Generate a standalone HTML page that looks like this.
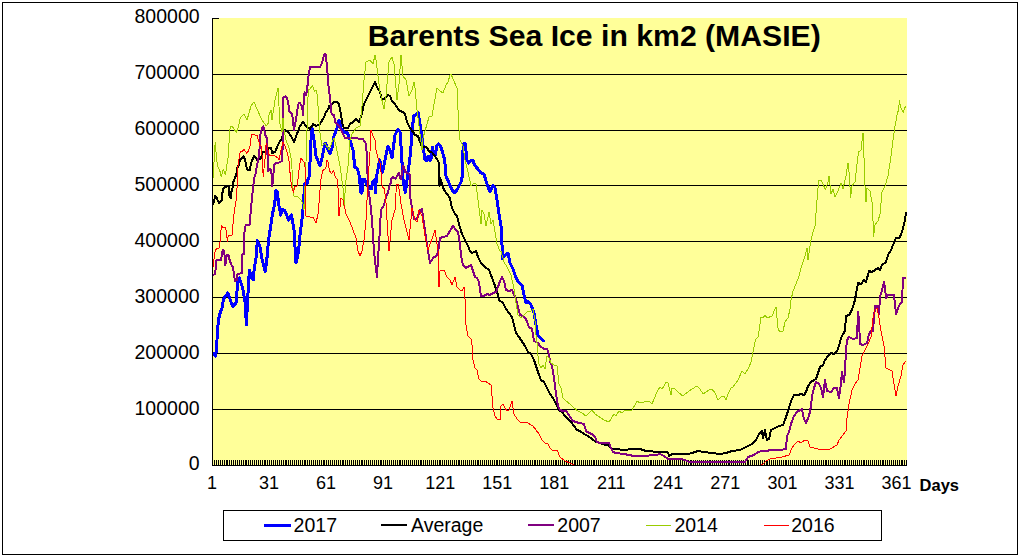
<!DOCTYPE html><html><head><meta charset="utf-8"><style>
html,body{margin:0;padding:0;background:#fff;overflow:hidden}
svg{display:block}
text{font-family:"Liberation Sans",sans-serif;fill:#000}
.y{font-size:19.5px}
.x{font-size:18px}
.b{font-size:16.5px;font-weight:bold}
.title{font-size:30.2px;font-weight:bold}
</style></head><body><svg width="1018" height="555" viewBox="0 0 1018 555" shape-rendering="crispEdges">
<rect x="0" y="0" width="1018" height="555" fill="#fff"/>
<rect x="2.5" y="2.5" width="1015" height="552" fill="none" stroke="#000" stroke-width="1"/>
<rect x="212" y="18" width="695" height="447" fill="#FFFF99"/>
<path d="M212 74.5H907 M212 130.5H907 M212 185.5H907 M212 241.5H907 M212 297.5H907 M212 353.5H907 M212 409.5H907" stroke="#000" stroke-width="1" fill="none"/>
<path d="M212 18.5H219" stroke="#000" stroke-width="1"/>
<path d="M212.5 460V465 M214.5 460V465 M216.5 460V465 M218.5 460V465 M220.5 460V465 M222.5 460V465 M224.5 460V465 M226.5 460V465 M227.5 460V465 M229.5 460V465 M231.5 460V465 M233.5 460V465 M235.5 460V465 M237.5 460V465 M239.5 460V465 M241.5 460V465 M243.5 460V465 M245.5 460V465 M246.5 460V465 M248.5 460V465 M250.5 460V465 M252.5 460V465 M254.5 460V465 M256.5 460V465 M258.5 460V465 M260.5 460V465 M262.5 460V465 M264.5 460V465 M265.5 460V465 M267.5 460V465 M269.5 460V465 M271.5 460V465 M273.5 460V465 M275.5 460V465 M277.5 460V465 M279.5 460V465 M281.5 460V465 M283.5 460V465 M285.5 460V465 M286.5 460V465 M288.5 460V465 M290.5 460V465 M292.5 460V465 M294.5 460V465 M296.5 460V465 M298.5 460V465 M300.5 460V465 M302.5 460V465 M304.5 460V465 M305.5 460V465 M307.5 460V465 M309.5 460V465 M311.5 460V465 M313.5 460V465 M315.5 460V465 M317.5 460V465 M319.5 460V465 M321.5 460V465 M323.5 460V465 M324.5 460V465 M326.5 460V465 M328.5 460V465 M330.5 460V465 M332.5 460V465 M334.5 460V465 M336.5 460V465 M338.5 460V465 M340.5 460V465 M342.5 460V465 M343.5 460V465 M345.5 460V465 M347.5 460V465 M349.5 460V465 M351.5 460V465 M353.5 460V465 M355.5 460V465 M357.5 460V465 M359.5 460V465 M361.5 460V465 M362.5 460V465 M364.5 460V465 M366.5 460V465 M368.5 460V465 M370.5 460V465 M372.5 460V465 M374.5 460V465 M376.5 460V465 M378.5 460V465 M380.5 460V465 M381.5 460V465 M383.5 460V465 M385.5 460V465 M387.5 460V465 M389.5 460V465 M391.5 460V465 M393.5 460V465 M395.5 460V465 M397.5 460V465 M399.5 460V465 M400.5 460V465 M402.5 460V465 M404.5 460V465 M406.5 460V465 M408.5 460V465 M410.5 460V465 M412.5 460V465 M414.5 460V465 M416.5 460V465 M418.5 460V465 M420.5 460V465 M421.5 460V465 M423.5 460V465 M425.5 460V465 M427.5 460V465 M429.5 460V465 M431.5 460V465 M433.5 460V465 M435.5 460V465 M437.5 460V465 M439.5 460V465 M440.5 460V465 M442.5 460V465 M444.5 460V465 M446.5 460V465 M448.5 460V465 M450.5 460V465 M452.5 460V465 M454.5 460V465 M456.5 460V465 M458.5 460V465 M459.5 460V465 M461.5 460V465 M463.5 460V465 M465.5 460V465 M467.5 460V465 M469.5 460V465 M471.5 460V465 M473.5 460V465 M475.5 460V465 M477.5 460V465 M478.5 460V465 M480.5 460V465 M482.5 460V465 M484.5 460V465 M486.5 460V465 M488.5 460V465 M490.5 460V465 M492.5 460V465 M494.5 460V465 M496.5 460V465 M497.5 460V465 M499.5 460V465 M501.5 460V465 M503.5 460V465 M505.5 460V465 M507.5 460V465 M509.5 460V465 M511.5 460V465 M513.5 460V465 M515.5 460V465 M516.5 460V465 M518.5 460V465 M520.5 460V465 M522.5 460V465 M524.5 460V465 M526.5 460V465 M528.5 460V465 M530.5 460V465 M532.5 460V465 M534.5 460V465 M535.5 460V465 M537.5 460V465 M539.5 460V465 M541.5 460V465 M543.5 460V465 M545.5 460V465 M547.5 460V465 M549.5 460V465 M551.5 460V465 M553.5 460V465 M555.5 460V465 M556.5 460V465 M558.5 460V465 M560.5 460V465 M562.5 460V465 M564.5 460V465 M566.5 460V465 M568.5 460V465 M570.5 460V465 M572.5 460V465 M574.5 460V465 M575.5 460V465 M577.5 460V465 M579.5 460V465 M581.5 460V465 M583.5 460V465 M585.5 460V465 M587.5 460V465 M589.5 460V465 M591.5 460V465 M593.5 460V465 M594.5 460V465 M596.5 460V465 M598.5 460V465 M600.5 460V465 M602.5 460V465 M604.5 460V465 M606.5 460V465 M608.5 460V465 M610.5 460V465 M612.5 460V465 M613.5 460V465 M615.5 460V465 M617.5 460V465 M619.5 460V465 M621.5 460V465 M623.5 460V465 M625.5 460V465 M627.5 460V465 M629.5 460V465 M631.5 460V465 M632.5 460V465 M634.5 460V465 M636.5 460V465 M638.5 460V465 M640.5 460V465 M642.5 460V465 M644.5 460V465 M646.5 460V465 M648.5 460V465 M650.5 460V465 M651.5 460V465 M653.5 460V465 M655.5 460V465 M657.5 460V465 M659.5 460V465 M661.5 460V465 M663.5 460V465 M665.5 460V465 M667.5 460V465 M669.5 460V465 M670.5 460V465 M672.5 460V465 M674.5 460V465 M676.5 460V465 M678.5 460V465 M680.5 460V465 M682.5 460V465 M684.5 460V465 M686.5 460V465 M688.5 460V465 M690.5 460V465 M691.5 460V465 M693.5 460V465 M695.5 460V465 M697.5 460V465 M699.5 460V465 M701.5 460V465 M703.5 460V465 M705.5 460V465 M707.5 460V465 M709.5 460V465 M710.5 460V465 M712.5 460V465 M714.5 460V465 M716.5 460V465 M718.5 460V465 M720.5 460V465 M722.5 460V465 M724.5 460V465 M726.5 460V465 M728.5 460V465 M729.5 460V465 M731.5 460V465 M733.5 460V465 M735.5 460V465 M737.5 460V465 M739.5 460V465 M741.5 460V465 M743.5 460V465 M745.5 460V465 M747.5 460V465 M748.5 460V465 M750.5 460V465 M752.5 460V465 M754.5 460V465 M756.5 460V465 M758.5 460V465 M760.5 460V465 M762.5 460V465 M764.5 460V465 M766.5 460V465 M767.5 460V465 M769.5 460V465 M771.5 460V465 M773.5 460V465 M775.5 460V465 M777.5 460V465 M779.5 460V465 M781.5 460V465 M783.5 460V465 M785.5 460V465 M786.5 460V465 M788.5 460V465 M790.5 460V465 M792.5 460V465 M794.5 460V465 M796.5 460V465 M798.5 460V465 M800.5 460V465 M802.5 460V465 M804.5 460V465 M805.5 460V465 M807.5 460V465 M809.5 460V465 M811.5 460V465 M813.5 460V465 M815.5 460V465 M817.5 460V465 M819.5 460V465 M821.5 460V465 M823.5 460V465 M825.5 460V465 M826.5 460V465 M828.5 460V465 M830.5 460V465 M832.5 460V465 M834.5 460V465 M836.5 460V465 M838.5 460V465 M840.5 460V465 M842.5 460V465 M844.5 460V465 M845.5 460V465 M847.5 460V465 M849.5 460V465 M851.5 460V465 M853.5 460V465 M855.5 460V465 M857.5 460V465 M859.5 460V465 M861.5 460V465 M863.5 460V465 M864.5 460V465 M866.5 460V465 M868.5 460V465 M870.5 460V465 M872.5 460V465 M874.5 460V465 M876.5 460V465 M878.5 460V465 M880.5 460V465 M882.5 460V465 M883.5 460V465 M885.5 460V465 M887.5 460V465 M889.5 460V465 M891.5 460V465 M893.5 460V465 M895.5 460V465 M897.5 460V465 M899.5 460V465 M901.5 460V465 M902.5 460V465 M904.5 460V465 M906.5 460V465" stroke="#000" stroke-width="1"/>
<path d="M213.0 353.0 L215.5 356.0 L216.5 350.0 L217.0 340.0 L217.5 329.0 L218.6 320.0 L219.5 315.0 L222.0 308.0 L223.6 299.0 L227.8 293.0 L230.3 300.0 L232.8 306.4 L236.1 303.0 L237.7 281.5 L239.4 278.0 L242.7 288.0 L245.2 303.0 L246.4 325.0 L247.7 298.0 L249.4 270.0 L251.0 276.6 L253.2 280.0 L254.3 268.0 L256.0 258.0 L257.4 240.5 L259.9 246.3 L261.8 258.0 L265.1 271.6 L266.8 260.0 L268.5 240.0 L269.1 236.0 L270.5 227.6 L271.8 218.6 L273.2 210.4 L274.6 204.2 L275.3 198.0 L276.0 190.0 L277.5 192.0 L278.5 203.0 L280.7 215.0 L282.3 209.0 L285.0 211.0 L288.5 220.0 L291.5 215.0 L294.0 230.0 L296.0 263.0 L298.5 252.0 L300.0 235.0 L302.5 215.0 L303.8 200.0 L304.4 184.0 L307.4 183.0 L308.1 179.0 L309.5 176.0 L309.7 166.0 L310.2 160.0 L311.0 140.0 L312.0 128.0 L314.0 140.0 L316.0 156.0 L320.0 166.0 L322.0 158.0 L324.0 148.0 L325.0 143.0 L326.0 144.0 L328.0 150.0 L330.0 154.0 L332.0 148.0 L334.0 136.0 L337.0 128.0 L339.0 120.0 L341.0 128.0 L344.0 132.0 L347.0 132.0 L350.0 140.0 L353.0 150.0 L354.8 166.9 L357.5 169.0 L358.9 173.8 L359.6 180.0 L360.9 193.0 L362.0 193.0 L362.3 179.3 L364.4 179.3 L366.0 183.0 L368.5 187.5 L371.3 188.9 L372.6 182.0 L374.7 180.0 L375.4 193.0 L376.4 177.2 L377.4 172.4 L378.5 166.2 L379.5 160.0 L380.5 162.0 L382.3 172.4 L383.5 168.0 L385.0 160.0 L388.0 146.0 L390.0 150.0 L392.0 158.0 L395.0 135.0 L398.0 129.0 L400.0 132.0 L401.0 146.0 L402.2 165.5 L402.9 178.0 L404.3 187.5 L405.3 192.3 L406.3 186.0 L407.0 180.0 L407.7 174.0 L408.7 167.0 L409.8 160.0 L411.0 146.0 L412.0 130.0 L414.0 115.0 L416.0 115.0 L418.0 112.0 L420.0 124.0 L422.0 138.0 L423.0 145.0 L424.8 158.9 L426.1 161.0 L428.2 156.0 L429.6 160.3 L430.9 159.6 L432.3 147.2 L433.3 152.0 L435.1 156.0 L436.8 145.8 L438.5 143.8 L440.6 146.5 L441.9 150.0 L443.3 154.8 L444.4 158.9 L445.4 168.0 L446.0 176.0 L449.0 183.0 L452.0 190.0 L455.0 193.0 L458.0 188.0 L461.0 182.0 L462.6 175.0 L463.0 150.0 L463.5 143.8 L465.3 143.8 L466.0 150.6 L466.7 160.3 L468.8 163.0 L471.5 160.3 L472.9 160.3 L474.3 164.4 L477.0 168.0 L481.0 173.0 L484.0 174.0 L487.0 184.0 L490.0 192.0 L493.0 185.0 L495.0 188.0 L497.0 200.0 L499.0 214.0 L501.0 226.0 L502.0 245.0 L502.0 259.0 L505.0 255.0 L508.0 253.0 L510.0 263.0 L513.0 269.0 L515.0 275.0 L518.0 282.0 L522.0 285.0 L524.0 295.0 L526.0 303.0 L528.0 301.0 L531.0 305.0 L534.0 313.0 L536.0 325.0 L538.0 335.0 L541.0 339.0 L544.0 341.0" stroke="#0000FF" stroke-width="3" fill="none" stroke-linejoin="round" stroke-linecap="round"/>
<path d="M212.5 204.0 L213.1 204.3 L214.2 200.8 L215.2 196.0 L216.6 197.4 L217.9 200.8 L219.3 202.9 L220.7 201.5 L222.1 200.1 L222.4 194.0 L222.8 189.0 L223.8 187.8 L225.5 187.0 L227.6 185.7 L228.9 187.0 L229.6 197.4 L230.7 198.0 L231.4 192.0 L232.4 188.4 L233.4 182.0 L234.8 178.4 L235.8 175.6 L236.9 171.5 L237.5 167.4 L238.6 165.3 L239.6 161.2 L241.0 159.0 L242.7 157.8 L243.7 156.4 L244.8 159.0 L245.8 163.3 L246.8 168.8 L248.2 170.0 L249.6 170.5 L250.6 166.0 L251.6 162.0 L253.0 158.4 L254.4 155.7 L255.8 157.8 L256.8 159.8 L259.2 157.8 L260.2 159.0 L261.6 156.4 L262.5 152.0 L264.0 151.6 L266.0 153.0 L269.2 147.5 L271.0 147.5 L272.3 153.0 L275.0 152.0 L277.8 145.4 L279.0 143.0 L282.0 138.0 L285.0 130.0 L288.0 132.0 L291.0 136.0 L294.0 142.0 L297.0 134.0 L300.0 126.0 L303.0 122.0 L306.0 126.0 L310.0 129.0 L313.0 124.0 L316.0 126.0 L320.0 124.0 L324.1 117.0 L325.5 113.0 L328.3 109.0 L329.3 106.0 L332.4 103.4 L334.5 102.0 L337.2 102.0 L338.6 103.4 L339.6 107.5 L340.6 112.3 L341.3 117.0 L342.5 124.0 L344.0 128.0 L348.0 128.0 L350.0 124.0 L353.0 122.0 L356.0 119.0 L359.0 122.0 L361.0 117.0 L364.0 104.0 L368.0 96.0 L372.0 88.0 L375.0 82.0 L377.0 87.0 L380.0 92.0 L382.0 100.0 L385.0 98.0 L388.0 95.0 L390.0 96.0 L392.0 101.0 L395.0 104.0 L398.0 109.0 L400.0 111.0 L403.0 112.0 L405.0 114.0 L407.0 122.0 L410.0 128.0 L413.0 132.0 L415.0 135.0 L418.0 136.0 L420.0 142.0 L422.0 147.0 L426.0 146.5 L427.5 148.6 L428.9 151.3 L432.3 152.7 L435.8 157.5 L437.8 160.3 L438.9 163.0 L439.2 168.0 L439.5 186.0 L440.0 178.0 L442.0 184.0 L444.0 190.0 L447.0 194.0 L450.0 198.0 L452.0 208.0 L455.0 214.0 L457.0 216.0 L459.0 224.0 L462.0 234.0 L465.0 240.0 L468.0 246.0 L470.0 251.0 L472.0 253.0 L476.0 251.0 L478.0 257.0 L481.0 263.0 L485.0 267.0 L489.0 270.0 L491.0 275.0 L494.0 283.0 L498.0 295.0 L499.0 300.0 L503.0 303.0 L506.0 309.0 L509.0 313.0 L512.0 317.0 L514.0 325.0 L516.0 333.0 L519.0 337.0 L521.0 340.0 L525.0 346.0 L528.0 352.0 L531.0 354.0 L534.0 360.0 L536.0 366.0 L538.0 372.0 L541.0 380.0 L544.0 382.0 L547.0 388.0 L550.0 394.0 L553.0 398.0 L556.0 404.0 L559.0 410.0 L562.0 412.0 L565.0 416.0 L568.0 419.0 L571.0 422.0 L574.0 426.0 L577.0 430.0 L580.0 431.0 L584.0 434.0 L588.0 436.0 L592.0 439.0 L596.0 442.0 L600.0 443.0 L606.0 445.0 L608.0 445.0 L612.0 449.0 L616.0 449.0 L624.0 450.0 L632.0 449.0 L640.0 449.0 L646.0 451.0 L654.0 451.6 L662.0 451.6 L668.0 452.4 L669.0 456.0 L672.0 454.0 L680.0 453.6 L686.0 454.4 L692.0 453.0 L698.0 451.0 L704.0 452.0 L712.0 453.0 L720.0 454.0 L726.0 453.0 L732.0 451.0 L740.0 450.0 L746.0 447.0 L752.0 444.0 L756.0 440.0 L759.0 434.0 L762.0 431.0 L763.0 438.0 L765.0 430.0 L767.0 440.0 L769.0 439.0 L771.0 430.0 L775.0 428.0 L779.0 426.0 L783.0 425.0 L785.0 420.0 L787.0 414.0 L789.0 408.0 L791.0 401.0 L794.0 395.0 L798.0 395.0 L801.0 394.0 L804.0 395.0 L806.0 392.0 L808.0 386.0 L811.0 382.0 L814.0 380.0 L816.0 379.0 L818.0 373.0 L820.0 367.0 L823.0 365.0 L825.0 360.0 L828.0 356.0 L831.0 353.0 L834.0 354.0 L837.0 351.0 L839.0 346.0 L841.0 338.0 L843.0 334.0 L845.0 331.0 L846.0 316.0 L849.0 315.0 L851.0 312.0 L854.0 304.0 L856.0 294.0 L858.0 283.0 L861.0 284.0 L864.0 280.0 L866.0 282.0 L869.0 271.0 L872.0 272.0 L875.0 270.0 L878.0 268.0 L880.0 270.0 L882.0 265.0 L886.0 262.0 L888.0 255.0 L891.0 250.0 L893.0 245.0 L896.0 238.0 L899.0 238.0 L901.0 235.0 L903.0 228.0 L905.0 220.0 L906.0 213.0" stroke="#000000" stroke-width="2" fill="none" stroke-linejoin="round" stroke-linecap="round"/>
<path d="M212.5 275.0 L215.1 274.0 L215.8 267.6 L216.5 260.0 L220.9 260.0 L221.6 256.6 L222.7 249.8 L223.3 249.8 L224.4 253.2 L225.1 264.9 L225.8 263.5 L226.8 254.6 L228.5 255.3 L229.5 259.4 L230.6 262.8 L231.9 265.6 L233.0 267.0 L234.0 275.0 L235.0 281.0 L237.0 280.0 L237.4 274.0 L242.3 273.0 L242.3 254.6 L243.8 253.9 L243.6 236.0 L245.0 230.3 L245.7 224.8 L249.8 224.5 L250.5 214.5 L251.2 205.0 L251.9 200.0 L252.6 192.0 L253.4 185.0 L254.4 177.0 L255.8 173.0 L256.8 166.0 L257.8 162.0 L258.5 158.0 L259.9 146.0 L260.6 132.0 L262.3 128.0 L263.3 126.5 L264.4 129.0 L264.7 135.0 L266.1 136.5 L267.1 138.6 L267.5 155.0 L268.1 171.0 L269.5 169.0 L270.9 170.0 L271.9 176.0 L272.3 186.0 L273.3 176.0 L274.0 165.0 L275.4 163.0 L279.0 162.6 L282.0 161.0 L283.0 140.0 L283.4 97.0 L285.6 96.5 L287.0 98.0 L288.7 106.0 L289.4 111.6 L292.2 114.4 L294.0 130.0 L296.3 118.0 L297.3 109.6 L298.7 103.4 L299.7 102.7 L301.4 105.4 L302.1 106.8 L303.2 115.0 L303.9 93.8 L304.9 92.4 L306.3 95.0 L307.0 86.9 L308.0 84.0 L308.5 76.0 L310.0 67.0 L320.0 67.0 L322.0 63.0 L324.0 55.0 L325.6 54.0 L327.0 66.0 L328.3 84.0 L329.0 90.3 L330.0 97.2 L331.0 108.9 L331.7 114.4 L333.8 115.0 L334.5 118.0 L335.0 122.0 L339.0 126.0 L342.0 132.0 L345.0 138.0 L352.0 138.0 L363.0 139.0 L366.0 144.0 L367.0 158.0 L368.0 188.0 L370.0 200.0 L372.0 220.0 L374.0 251.0 L375.0 261.0 L377.0 277.0 L378.0 257.0 L379.0 245.0 L381.0 210.0 L384.0 205.0 L385.7 198.0 L387.8 193.0 L389.5 186.0 L391.2 182.0 L391.5 178.0 L393.3 177.2 L395.3 178.6 L397.4 175.8 L398.8 172.7 L400.1 177.2 L400.8 179.3 L402.2 172.4 L403.2 166.2 L404.3 167.6 L405.0 171.7 L406.3 172.4 L408.4 173.8 L410.1 174.4 L410.3 198.0 L412.0 208.0 L414.0 219.0 L417.0 219.0 L420.0 210.0 L422.0 209.0 L424.0 224.0 L427.0 244.0 L429.0 257.0 L430.0 263.0 L433.0 258.0 L436.0 256.0 L438.0 253.0 L440.0 238.0 L443.0 237.0 L447.0 236.0 L451.0 229.0 L453.0 226.0 L456.0 230.0 L458.0 232.0 L460.0 244.0 L461.0 255.0 L463.0 265.0 L466.0 268.0 L469.0 266.0 L471.0 265.0 L473.0 271.0 L475.0 277.0 L477.0 278.0 L479.0 282.0 L481.0 296.0 L484.0 296.0 L487.0 294.0 L490.0 295.0 L493.0 293.0 L496.0 292.0 L498.0 287.0 L500.0 281.0 L502.0 277.0 L504.0 281.0 L506.0 290.0 L509.0 291.0 L512.0 290.0 L516.0 299.0 L518.0 307.0 L520.0 315.0 L523.0 316.0 L526.0 319.0 L529.0 327.0 L532.0 329.0 L534.0 341.0 L538.0 343.0 L540.0 346.0 L544.0 349.0 L547.0 349.0 L549.0 354.0 L550.0 362.0 L552.0 366.0 L554.0 378.0 L556.0 394.0 L558.0 406.0 L560.0 410.0 L563.0 411.0 L566.0 411.0 L569.0 415.0 L572.0 420.0 L575.0 422.0 L580.0 423.0 L584.0 424.0 L586.0 431.0 L589.0 433.0 L592.0 434.0 L595.0 437.0 L597.0 442.0 L600.0 443.0 L604.0 443.0 L609.0 443.0 L611.0 448.0 L613.0 452.0 L616.0 453.0 L624.0 454.0 L632.0 455.6 L648.0 455.6 L656.0 455.0 L660.0 454.0 L664.0 456.0 L668.0 459.0 L676.0 459.0 L684.0 459.6 L688.0 461.6 L712.0 461.6 L728.0 462.0 L740.0 462.4 L745.0 462.0 L748.0 457.0 L754.0 455.0 L758.0 452.0 L762.0 451.0 L770.0 450.4 L776.0 450.0 L782.0 449.6 L786.0 449.0 L787.0 436.0 L789.0 432.0 L791.0 424.0 L794.0 416.0 L797.0 412.0 L800.0 410.0 L802.0 409.0 L804.0 419.0 L806.0 423.0 L809.0 416.0 L811.0 406.0 L812.0 396.0 L814.0 388.0 L816.0 382.0 L819.0 384.0 L821.0 388.0 L823.0 397.0 L825.0 380.0 L827.0 391.0 L831.0 392.0 L834.0 388.0 L837.0 388.0 L839.0 398.0 L841.0 383.0 L842.0 372.0 L844.0 382.0 L845.0 370.0 L846.0 350.0 L847.0 340.0 L849.0 337.0 L853.0 339.0 L857.0 338.0 L858.0 312.0 L859.0 320.0 L860.0 344.0 L863.0 345.0 L867.0 343.0 L869.0 334.0 L871.0 331.0 L873.0 331.0 L875.0 306.0 L877.0 306.0 L879.0 314.0 L880.0 297.0 L882.0 290.0 L884.0 282.0 L885.0 288.0 L886.0 298.0 L888.0 295.0 L894.0 295.0 L896.0 314.0 L898.0 308.0 L900.0 304.0 L902.0 302.0 L903.0 278.0 L905.0 278.0" stroke="#800080" stroke-width="2" fill="none" stroke-linejoin="round" stroke-linecap="round"/>
<path d="M213.0 178.0 L214.5 155.0 L215.2 142.0 L215.9 150.0 L216.6 160.0 L218.0 167.0 L220.0 171.5 L221.4 177.0 L222.4 171.5 L223.4 169.4 L224.5 172.0 L225.5 175.0 L226.5 167.0 L227.6 160.5 L228.6 155.0 L229.3 134.4 L230.3 126.5 L232.4 126.5 L234.0 129.0 L236.2 132.4 L238.6 127.0 L239.6 120.0 L241.0 117.0 L244.0 114.0 L247.0 120.0 L251.0 106.0 L254.0 102.0 L257.0 109.0 L262.0 120.0 L263.3 122.0 L265.0 124.0 L266.1 126.2 L268.1 123.4 L269.0 115.0 L271.0 110.0 L272.0 120.0 L275.0 100.0 L278.0 88.0 L280.0 124.0 L282.0 132.0 L283.0 118.0 L284.0 130.0 L286.0 140.0 L289.0 148.0 L291.5 160.0 L292.6 180.0 L293.3 193.0 L294.0 196.0 L298.0 197.0 L301.0 200.0 L303.0 204.0 L304.0 210.0 L306.5 150.0 L307.3 118.0 L308.3 89.0 L309.7 89.6 L311.0 87.6 L312.5 85.5 L313.5 88.3 L314.5 91.3 L315.5 90.7 L316.6 90.3 L317.3 97.2 L318.3 109.6 L318.8 118.0 L319.5 130.0 L322.0 146.0 L325.0 143.0 L329.0 150.0 L332.0 142.0 L334.0 138.0 L336.0 146.0 L340.0 166.0 L343.0 188.0 L344.0 206.0 L346.0 180.0 L348.0 166.0 L350.0 140.0 L352.0 134.0 L356.0 128.0 L360.0 126.0 L362.0 106.0 L364.0 80.0 L366.0 62.0 L370.0 60.0 L373.0 64.0 L375.0 55.0 L376.0 60.0 L378.0 76.0 L380.0 92.0 L384.0 109.0 L386.0 96.0 L389.0 62.0 L392.0 57.0 L394.0 64.0 L397.0 100.0 L399.0 84.0 L401.0 55.0 L403.0 76.0 L406.0 80.0 L409.0 96.0 L412.0 90.0 L414.0 82.0 L415.0 88.0 L417.0 110.0 L420.0 134.0 L422.0 150.0 L423.0 138.0 L427.0 124.0 L429.0 117.0 L432.0 116.0 L434.0 104.0 L437.0 88.0 L440.0 91.0 L443.0 93.0 L446.0 85.0 L448.0 82.0 L450.0 75.0 L451.0 74.0 L453.0 79.0 L457.0 88.0 L458.0 110.0 L459.0 130.0 L460.0 140.0 L463.0 146.0 L465.0 160.0 L468.0 172.0 L471.0 186.0 L474.0 183.0 L476.0 184.0 L478.0 200.0 L480.0 216.0 L481.0 224.0 L482.0 210.0 L484.0 214.0 L486.0 226.0 L489.0 212.0 L491.0 224.0 L493.0 220.0 L495.0 232.0 L497.0 244.0 L500.0 251.0 L501.0 251.0 L504.0 262.0 L507.0 267.0 L511.0 275.0 L514.0 289.0 L516.0 303.0 L518.0 315.0 L521.0 318.0 L524.0 315.0 L527.0 312.0 L531.0 311.0 L533.0 309.0 L535.0 321.0 L536.0 335.0 L537.0 343.0 L537.5 352.0 L539.0 364.0 L541.0 368.0 L543.0 365.0 L545.0 369.0 L547.0 356.0 L549.0 358.0 L551.0 363.0 L554.0 365.0 L557.0 366.0 L559.0 384.0 L561.0 388.0 L563.0 398.0 L566.0 401.0 L570.0 404.0 L574.0 408.0 L578.0 411.0 L582.0 413.0 L586.0 416.0 L589.0 413.0 L592.0 410.0 L595.0 414.0 L598.0 416.0 L601.0 418.0 L604.0 420.0 L609.0 422.0 L611.0 419.0 L614.0 414.0 L616.0 416.0 L619.0 411.0 L622.0 413.0 L625.0 410.0 L628.0 411.0 L632.0 410.0 L635.0 405.0 L637.0 401.0 L640.0 403.0 L644.0 402.0 L648.0 401.0 L650.0 402.0 L652.0 404.0 L654.0 399.0 L657.0 392.0 L660.0 387.0 L662.0 389.0 L664.0 386.0 L666.0 382.0 L668.0 383.0 L671.0 395.0 L672.0 388.0 L675.0 389.0 L679.0 393.0 L683.0 396.0 L685.0 394.0 L688.0 392.0 L692.0 389.0 L697.0 386.0 L700.0 389.0 L703.0 394.0 L706.0 392.0 L709.0 390.0 L712.0 389.0 L715.0 393.0 L718.0 400.0 L721.0 397.0 L724.0 396.0 L726.0 400.0 L728.0 394.0 L731.0 388.0 L733.0 387.0 L738.0 380.0 L742.0 371.0 L745.0 374.0 L749.0 367.0 L751.0 362.0 L753.0 352.0 L755.0 342.0 L756.0 339.0 L758.0 337.0 L759.0 331.0 L761.0 317.0 L763.0 318.0 L765.0 315.0 L767.0 318.0 L772.0 316.0 L775.0 309.0 L776.0 307.0 L778.0 328.0 L779.6 332.0 L783.0 331.0 L785.0 322.0 L788.0 318.0 L790.0 309.0 L791.0 300.0 L793.0 291.0 L796.0 284.0 L799.0 276.0 L801.0 268.0 L803.0 262.0 L805.0 256.0 L807.0 248.0 L808.0 260.0 L810.0 246.0 L811.0 240.0 L813.0 232.0 L815.0 226.0 L817.0 200.0 L818.6 181.0 L821.0 180.0 L823.0 184.0 L825.4 190.0 L828.0 182.0 L829.0 176.0 L831.0 194.0 L833.0 189.0 L835.0 197.0 L838.0 191.0 L841.0 183.0 L843.0 189.0 L846.0 176.0 L848.0 163.0 L849.4 176.0 L850.6 198.0 L852.0 186.0 L855.0 182.0 L857.0 164.0 L858.6 152.0 L861.0 150.0 L863.0 133.0 L864.0 158.0 L865.0 186.0 L866.0 202.0 L867.0 188.0 L870.0 191.0 L872.0 202.0 L873.0 221.0 L873.5 237.0 L875.0 225.0 L878.0 221.0 L880.0 214.0 L882.0 192.0 L885.0 186.0 L888.0 176.0 L891.0 156.0 L893.0 140.0 L895.0 126.0 L896.3 120.0 L896.8 116.0 L898.4 110.0 L899.5 100.5 L900.6 107.6 L903.3 112.4 L904.4 108.6 L906.0 106.0" stroke="#99CC00" stroke-width="1" fill="none" stroke-linejoin="round" stroke-linecap="round"/>
<path d="M212.5 268.0 L213.4 266.3 L213.7 262.0 L214.4 254.6 L215.4 249.8 L217.2 248.4 L219.2 248.0 L219.6 242.9 L220.3 241.5 L220.6 236.0 L221.3 225.5 L222.3 226.5 L223.0 227.6 L225.4 227.6 L226.4 231.7 L227.3 241.5 L228.2 235.5 L232.0 235.5 L232.6 229.0 L233.7 216.6 L234.7 208.3 L235.7 204.2 L236.4 198.0 L236.8 192.0 L237.2 185.0 L238.2 162.0 L238.9 159.0 L239.3 158.0 L240.3 151.6 L242.0 151.6 L244.1 149.6 L246.5 153.0 L248.5 151.0 L250.3 145.4 L251.3 134.4 L253.0 134.4 L257.1 135.5 L258.5 140.6 L259.9 145.4 L261.3 146.1 L262.0 155.0 L262.6 168.8 L263.3 176.3 L264.0 168.8 L264.4 161.9 L265.4 157.8 L266.1 143.4 L267.5 147.5 L268.8 154.4 L270.2 155.8 L274.3 155.7 L277.8 157.8 L279.0 159.8 L281.0 150.0 L283.0 142.0 L285.0 146.0 L287.0 152.0 L288.9 160.0 L290.3 175.8 L291.3 184.8 L292.3 189.0 L293.3 192.3 L294.0 190.0 L294.7 186.8 L297.1 186.1 L297.8 181.3 L298.9 171.0 L299.9 164.1 L300.6 160.0 L301.0 158.0 L302.5 160.0 L304.7 163.0 L305.7 176.0 L306.0 216.0 L310.0 217.0 L313.0 217.0 L316.0 223.0 L318.0 214.0 L319.5 198.0 L320.5 182.0 L321.5 176.5 L322.6 171.0 L323.6 169.6 L325.3 169.0 L326.4 165.5 L327.0 160.0 L327.7 160.0 L328.8 167.6 L330.1 171.7 L331.5 173.8 L333.2 170.3 L334.3 173.0 L335.3 177.2 L337.7 180.0 L337.7 187.5 L338.4 189.6 L339.0 216.0 L341.0 198.0 L343.0 200.0 L346.0 214.0 L350.0 222.0 L353.0 230.0 L356.0 238.0 L358.0 251.0 L360.0 256.0 L362.0 251.0 L364.0 240.0 L366.0 220.0 L368.0 180.0 L370.0 152.0 L371.0 130.0 L373.0 136.0 L375.0 140.0 L376.0 150.0 L378.5 160.0 L379.9 162.0 L380.5 166.0 L381.2 174.0 L381.6 180.6 L382.3 187.5 L384.0 188.2 L385.7 198.0 L387.0 220.0 L389.0 251.0 L392.0 220.0 L395.0 210.0 L396.0 193.0 L396.4 184.0 L398.1 184.0 L399.5 191.6 L401.0 204.0 L404.0 220.0 L407.0 232.0 L409.0 240.0 L412.0 208.0 L415.0 220.0 L417.0 222.0 L419.0 210.0 L422.0 216.0 L425.0 236.0 L428.0 250.0 L433.0 236.0 L435.0 230.0 L437.0 244.0 L438.0 250.0 L439.0 287.0 L440.0 271.0 L444.0 270.0 L447.0 277.0 L450.0 280.0 L452.0 285.0 L455.0 277.0 L457.0 287.0 L460.0 290.0 L462.0 291.0 L464.0 287.0 L465.0 299.0 L466.0 325.0 L468.0 336.0 L471.0 339.0 L472.0 345.0 L473.0 360.0 L475.0 368.0 L477.0 370.0 L479.0 379.0 L481.0 381.0 L485.0 381.0 L488.0 383.0 L491.0 385.0 L492.0 396.0 L493.0 408.0 L495.0 416.0 L497.0 419.0 L500.0 420.0 L501.0 406.0 L503.0 404.0 L505.0 408.0 L507.0 411.0 L509.0 410.0 L511.0 404.0 L512.0 401.0 L514.0 414.0 L517.0 419.0 L520.0 422.0 L524.0 422.0 L528.0 423.0 L531.0 425.0 L533.0 426.0 L536.0 430.0 L539.0 434.0 L542.0 440.0 L545.0 443.0 L548.0 444.0 L550.0 448.0 L552.0 450.0 L557.0 450.0 L560.0 457.0 L565.0 461.0 L570.0 463.0 L575.0 465.5 L760.0 465.5 L763.0 464.0 L766.0 461.0 L770.0 459.0 L776.0 458.0 L782.0 457.0 L789.0 455.0 L792.0 448.0 L795.0 444.0 L798.0 441.0 L801.0 443.0 L805.0 440.0 L808.0 441.0 L810.0 447.0 L822.0 450.0 L830.0 449.0 L837.0 445.0 L839.0 440.0 L843.0 435.0 L846.0 431.0 L847.0 418.0 L849.0 404.0 L852.0 390.0 L855.0 384.0 L858.0 380.0 L860.0 368.0 L862.0 356.0 L865.0 350.0 L868.0 344.0 L871.0 337.0 L873.0 318.0 L875.0 310.0 L877.0 308.0 L879.0 318.0 L881.0 331.0 L884.0 346.0 L886.0 368.0 L890.0 370.0 L892.0 371.0 L894.0 384.0 L896.0 396.0 L898.0 386.0 L901.0 376.0 L903.0 365.0 L906.0 361.0" stroke="#FF0000" stroke-width="1" fill="none" stroke-linejoin="round" stroke-linecap="round"/>
<path d="M212.5 18V466M212 465.5H907" stroke="#000" stroke-width="1" fill="none"/>
<text x="199.6" y="469.8" text-anchor="end" class="y">0</text>
<text x="199.6" y="414.6" text-anchor="end" class="y">100000</text>
<text x="199.6" y="358.6" text-anchor="end" class="y">200000</text>
<text x="199.6" y="302.6" text-anchor="end" class="y">300000</text>
<text x="199.6" y="246.5" text-anchor="end" class="y">400000</text>
<text x="199.6" y="190.5" text-anchor="end" class="y">500000</text>
<text x="199.6" y="134.6" text-anchor="end" class="y">600000</text>
<text x="199.6" y="78.5" text-anchor="end" class="y">700000</text>
<text x="199.6" y="22.5" text-anchor="end" class="y">800000</text>
<text x="212.00" y="488.8" text-anchor="middle" class="x">1</text>
<text x="269.04" y="488.8" text-anchor="middle" class="x">31</text>
<text x="326.08" y="488.8" text-anchor="middle" class="x">61</text>
<text x="383.12" y="488.8" text-anchor="middle" class="x">91</text>
<text x="440.16" y="488.8" text-anchor="middle" class="x">121</text>
<text x="497.21" y="488.8" text-anchor="middle" class="x">151</text>
<text x="554.25" y="488.8" text-anchor="middle" class="x">181</text>
<text x="611.29" y="488.8" text-anchor="middle" class="x">211</text>
<text x="668.33" y="488.8" text-anchor="middle" class="x">241</text>
<text x="725.37" y="488.8" text-anchor="middle" class="x">271</text>
<text x="782.41" y="488.8" text-anchor="middle" class="x">301</text>
<text x="839.45" y="488.8" text-anchor="middle" class="x">331</text>
<text x="896.49" y="488.8" text-anchor="middle" class="x">361</text>
<text x="919.6" y="490.7" class="b">Days</text>
<text x="367.8" y="46" class="title">Barents Sea Ice in km2 (MASIE)</text>
<rect x="223.5" y="510.5" width="658" height="30" fill="#fff" stroke="#000" stroke-width="1"/>
<rect x="264" y="524" width="27" height="3" fill="#0000FF"/>
<rect x="381" y="524" width="26" height="2" fill="#000"/>
<rect x="528" y="524" width="26" height="2" fill="#800080"/>
<rect x="646" y="525" width="25" height="1" fill="#99CC00"/>
<rect x="764" y="525" width="25" height="1" fill="#FF0000"/>
<text x="293.6" y="532" class="y">2017</text>
<text x="411" y="532" class="y">Average</text>
<text x="557.3" y="532" class="y">2007</text>
<text x="674.4" y="532" class="y">2014</text>
<text x="791.2" y="532" class="y">2016</text>
</svg></body></html>
